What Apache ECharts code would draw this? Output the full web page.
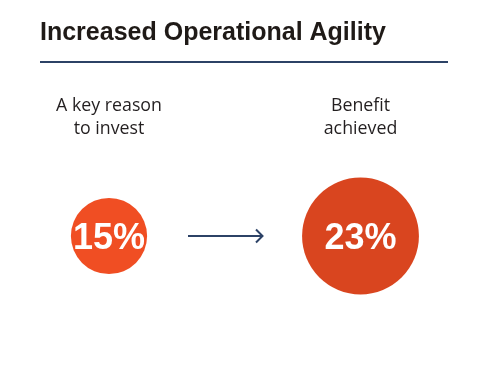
<!DOCTYPE html>
<html><head><meta charset="utf-8">
<script src="https://cdn.jsdelivr.net/npm/echarts@6/dist/echarts.min.js"></script>
<style>html,body{margin:0;padding:0;background:#fff}#c{width:486px;height:383px}</style>
</head><body><div id="c"></div>
<script>
var titleText = 'Increased Operational Agility';
var categories = ['A key reason\nto invest', 'Benefit\nachieved'];
var values = [15, 23];
var colors = ['#f04e23', '#d9451f'];

var chart = echarts.init(document.getElementById('c'), null, {renderer: 'canvas'});
var data = values.map(function (v, i) {
  return {value: [i, 0, v], itemStyle: {color: colors[i], opacity: 1}};
});
chart.setOption({
  animation: false,
  backgroundColor: '#ffffff',
  grid: {left: 109, right: 125.5, top: 149, bottom: 60},
  xAxis: {
    type: 'category', data: categories, boundaryGap: false,
    axisLine: {show: false}, axisTick: {show: false}, splitLine: {show: false},
    position: 'top',
    axisLabel: {show: true, color: '#231f20', fontFamily: 'Open Sans', fontSize: 17.8, lineHeight: 23, margin: 9, interval: 0, verticalAlign: 'bottom'}
  },
  yAxis: {type: 'value', min: -1, max: 1, show: false},
  series: [{
    type: 'scatter',
    data: data,
    symbol: 'circle',
    symbolSize: function (d) { return d[2] * 5.08; },
    emphasis: {disabled: true},
    label: {
      show: true, position: 'inside', offset: [0, 3],
      formatter: function (p) { return p.value[2] + '%'; },
      color: '#ffffff', fontFamily: 'Liberation Sans', fontWeight: 'bold', fontSize: 36
    }
  }],
  graphic: [
    {type: 'text', left: 40, top: 21, style: {text: titleText, font: 'bold 25px "Liberation Sans"', fill: '#1f1a17'}},
    {type: 'line', shape: {x1: 40, y1: 62, x2: 448, y2: 62}, style: {stroke: '#2c4266', lineWidth: 2}},
    {type: 'line', shape: {x1: 188, y1: 236, x2: 262, y2: 236}, style: {stroke: '#2c4266', lineWidth: 2}},
    {type: 'polyline', shape: {points: [[256, 229.5], [262.5, 236], [256, 242.5]]}, style: {stroke: '#2c4266', lineWidth: 2, fill: null}}
  ]
});
</script></body></html>
